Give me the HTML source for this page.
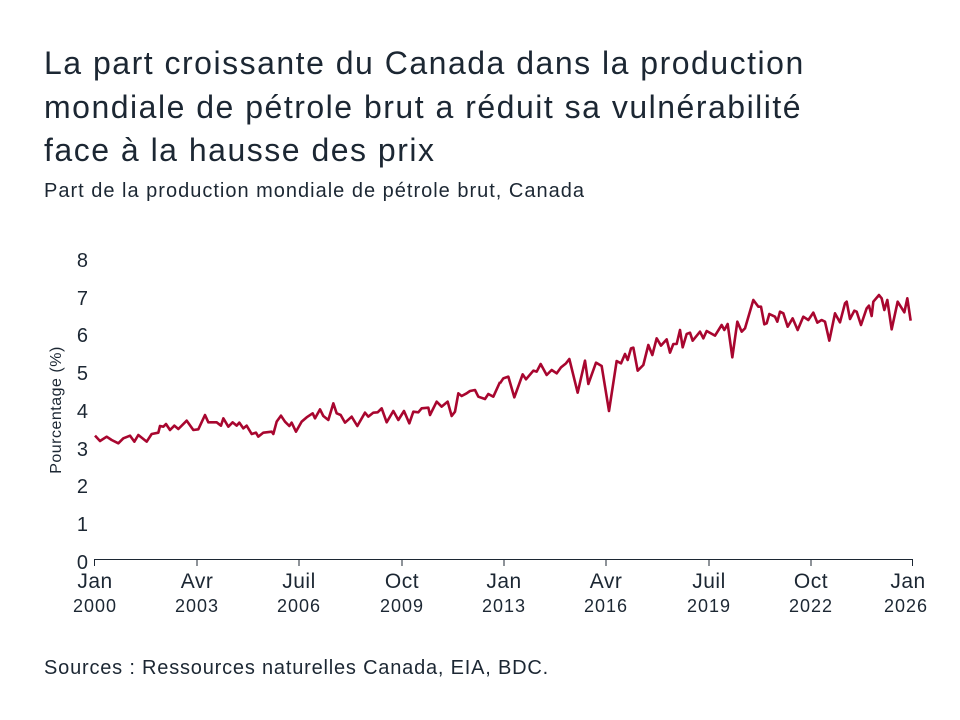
<!DOCTYPE html>
<html><head><meta charset="utf-8"><style>
body{margin:0;background:#fff;width:960px;height:720px;overflow:hidden;font-family:"Liberation Sans",sans-serif;color:#1c2733}
.t{position:absolute;left:44px;top:42px;font-size:32px;line-height:43.5px;letter-spacing:1.5px}
.s{position:absolute;left:44px;top:180px;font-size:20px;letter-spacing:1px}
.src{position:absolute;left:44px;top:657px;font-size:20px;letter-spacing:0.8px}
</style></head><body>
<div class="t">La part croissante du Canada dans la production<br>mondiale de pétrole brut a réduit sa vulnérabilité<br>face à la hausse des prix</div>
<div class="s">Part de la production mondiale de pétrole brut, Canada</div>
<svg width="960" height="720" style="position:absolute;left:0;top:0" font-family="Liberation Sans, sans-serif" fill="#1c2733">
<g font-size="20" text-anchor="end">
<text x="88" y="267">8</text><text x="88" y="305">7</text><text x="88" y="342">6</text><text x="88" y="380">5</text><text x="88" y="418">4</text><text x="88" y="456">3</text><text x="88" y="493">2</text><text x="88" y="531">1</text><text x="88" y="569">0</text>
</g>
<text transform="translate(61,410) rotate(-90)" font-size="16" text-anchor="middle" letter-spacing="0.5">Pourcentage (%)</text>
<line x1="94" y1="559.5" x2="913" y2="559.5" stroke="#1c2733" stroke-width="1"/>
<g stroke="#1c2733" stroke-width="1">
<line x1="94.5" y1="559" x2="94.5" y2="566"/><line x1="197" y1="559" x2="197" y2="566"/><line x1="299" y1="559" x2="299" y2="566"/><line x1="402" y1="559" x2="402" y2="566"/><line x1="504" y1="559" x2="504" y2="566"/><line x1="606" y1="559" x2="606" y2="566"/><line x1="709" y1="559" x2="709" y2="566"/><line x1="811" y1="559" x2="811" y2="566"/><line x1="912.5" y1="559" x2="912.5" y2="566"/>
</g>
<g font-size="21" text-anchor="middle" letter-spacing="0.5">
<text x="95" y="588">Jan</text><text x="197" y="588">Avr</text><text x="299" y="588">Juil</text><text x="402" y="588">Oct</text><text x="504" y="588">Jan</text><text x="606" y="588">Avr</text><text x="709" y="588">Juil</text><text x="811" y="588">Oct</text><text x="908" y="588">Jan</text>
</g>
<g font-size="18" text-anchor="middle" letter-spacing="1">
<text x="95" y="612">2000</text><text x="197" y="612">2003</text><text x="299" y="612">2006</text><text x="402" y="612">2009</text><text x="504" y="612">2013</text><text x="606" y="612">2016</text><text x="709" y="612">2019</text><text x="811" y="612">2022</text><text x="906" y="612">2026</text>
</g>
<g fill="none" stroke="#a8062f" stroke-width="2.6" stroke-linejoin="round">
<polyline vector-effect="non-scaling-stroke" transform="translate(80,280) scale(0.33333)" points="45,467 60,483 80,470 95,480 115,490 130,475 150,467 163,485 175,465 200,485 215,462 235,458 240,438 250,440 258,432 270,450 283,437 295,447 320,422 340,450 355,448 375,405 385,427 410,427 423,437 430,415 445,440 458,427 470,437 478,428 490,445 500,437 515,462 528,458 535,470 550,458 575,455 580,462 590,425 603,407 615,425 628,438 635,428 648,455 665,425 680,412 698,400 705,415 720,388 730,408 745,420 760,370 770,400 782,405 795,428 815,410 832,438 855,398 865,410 880,398 893,397 905,385 920,427 940,393 955,420 972,393 988,430 1000,395 1015,397 1025,385 1045,383 1050,405 1070,365 1085,380 1103,365 1115,408 1125,395 1135,340 1145,348 1160,340 1170,333 1185,330 1195,350 1215,357 1225,342 1240,350 1260,306"/>
<polyline vector-effect="non-scaling-stroke" transform="translate(500,280) scale(0.33333)" points="0,310 10,295 25,290 43,352 68,283 78,298 100,272 110,275 122,252 140,285 155,270 170,280 183,262 198,250 208,237 233,338 255,242 265,312 288,248 305,258 327,393 350,243 363,250 375,222 383,240 393,205 400,203 413,272 430,255 445,195 457,225 470,175 483,197 500,178 510,218 520,192 530,192 540,150 548,202 560,162 570,158 578,182 600,155 610,175 620,153 645,167 665,135 673,150 683,132 697,232 712,125 725,155 735,145 760,60 775,80 783,80 793,133 800,130 808,102 825,110 832,125 840,95 850,100 863,140 878,115 893,150 910,110 925,120 940,98 952,128 965,120 975,125 988,182 1005,100 1020,127 1035,70 1040,65 1050,117 1063,92 1070,95 1083,135 1100,85 1107,77 1115,108 1120,65 1137,45 1145,55 1153,90 1162,60 1175,148 1193,65 1213,97 1222,55 1232,122"/>
</g>
</svg>
<div class="src">Sources : Ressources naturelles Canada, EIA, BDC.</div>
</body></html>
